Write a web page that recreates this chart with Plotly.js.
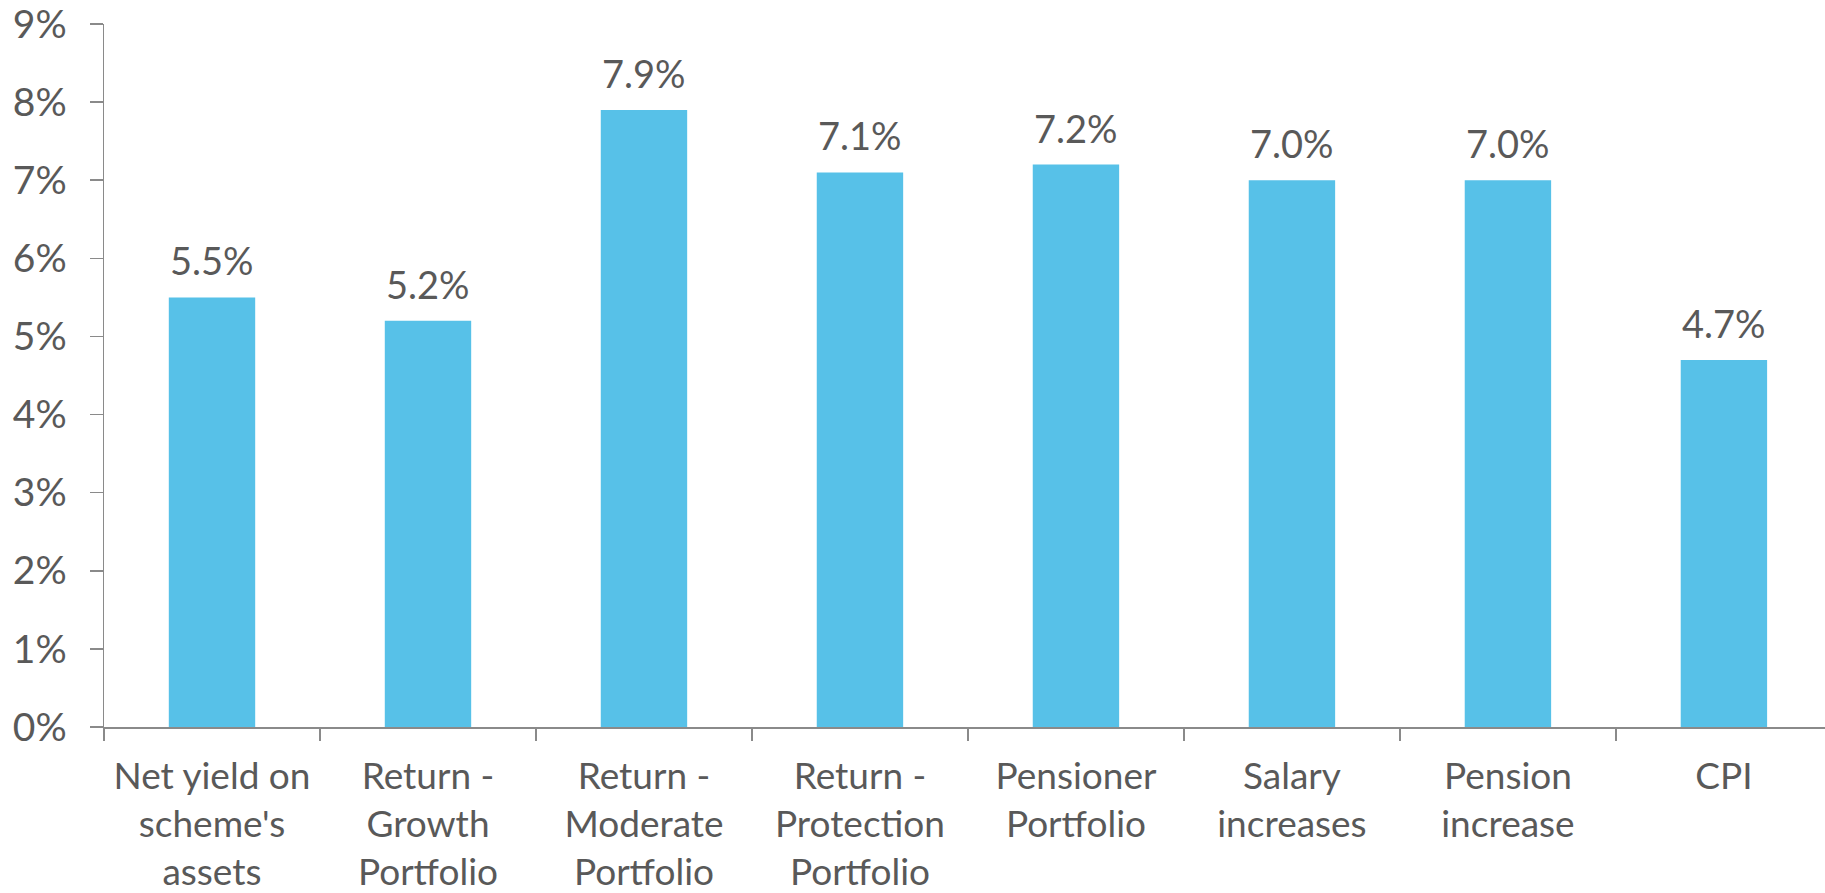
<!DOCTYPE html>
<html>
<head>
<meta charset="utf-8">
<script src="https://cdn.plot.ly/plotly-3.0.1.min.js"></script>
<style>html,body{margin:0;padding:0;background:#fff;}#chart{width:1825px;height:893px;}</style>
</head>
<body>
<div id="chart"></div>
<script>
const categories = [
  "Net yield on<br>scheme's<br>assets",
  "Return -<br>Growth<br>Portfolio",
  "Return -<br>Moderate<br>Portfolio",
  "Return -<br>Protection<br>Portfolio",
  "Pensioner<br>Portfolio",
  "Salary<br>increases",
  "Pension<br>increase",
  "CPI"
];
const values = [0.055, 0.052, 0.079, 0.071, 0.072, 0.070, 0.070, 0.047];
const yTickVals = [0, 0.01, 0.02, 0.03, 0.04, 0.05, 0.06, 0.07, 0.08, 0.09];

const textColor = '#595959';
const axisColor = '#8a8a8a';
const fontFamily = 'Lato, "Open Sans", sans-serif';

const trace = {
  type: 'bar',
  x: categories,
  y: values,
  marker: {color: '#57C1E8'},
  hoverinfo: 'none'
};

const annotations = categories.map((c, i) => ({
  x: c,
  y: values[i],
  xref: 'x',
  yref: 'y',
  text: (values[i] * 100).toFixed(1) + '%',
  showarrow: false,
  yanchor: 'middle',
  yshift: 37,
  font: {family: fontFamily, size: 38, color: textColor}
}));

const layout = {
  width: 1825,
  height: 893,
  autosize: false,
  margin: {l: 104, r: 0, t: 24, b: 166, pad: 0},
  paper_bgcolor: '#fff',
  plot_bgcolor: '#fff',
  showlegend: false,
  bargap: 0.6,
  font: {family: fontFamily, size: 37, color: textColor},
  xaxis: {
    type: 'category',
    range: [-0.5, 7.468],
    showline: true,
    linecolor: axisColor,
    linewidth: 1.5,
    ticks: 'outside',
    tickson: 'boundaries',
    ticklen: 12,
    tickcolor: axisColor,
    tickwidth: 1.5,
    showgrid: false,
    zeroline: false,
    ticklabelstandoff: 16,
    tickfont: {family: fontFamily, size: 37, color: textColor},
    fixedrange: true
  },
  yaxis: {
    range: [0, 0.09],
    tickvals: yTickVals,
    tickformat: '.0%',
    showline: true,
    linecolor: axisColor,
    linewidth: 1.5,
    ticks: 'outside',
    ticklen: 13,
    tickcolor: axisColor,
    tickwidth: 1.5,
    showgrid: false,
    zeroline: false,
    ticklabelstandoff: 15,
    ticklabeloverflow: 'allow',
    tickfont: {family: fontFamily, size: 39, color: textColor},
    fixedrange: true
  },
  annotations: annotations
};

Plotly.newPlot('chart', [trace], layout, {displayModeBar: false, staticPlot: true});
</script>
</body>
</html>
